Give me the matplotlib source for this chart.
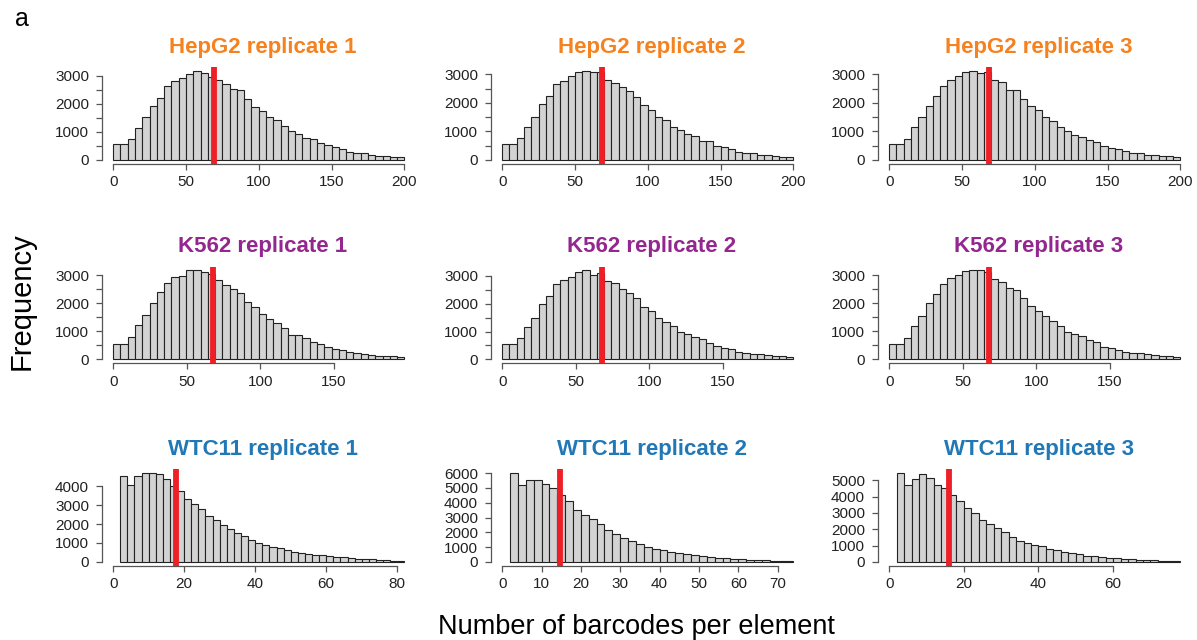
import numpy as np
import matplotlib
matplotlib.use("Agg")
import matplotlib.pyplot as plt
from matplotlib.ticker import FixedLocator, FuncFormatter

plt.rcParams['font.family'] = ['Liberation Sans', 'DejaVu Sans']

# --- data (counts per bin) ---
hepg2_rep1 = [560, 560, 760, 1150, 1520, 1920, 2220, 2630, 2820, 2900, 3050, 3180, 3080, 2950,
              2850, 2690, 2510, 2490, 2160, 1900, 1740, 1510, 1420, 1190, 1030, 910, 790, 735,
              620, 530, 450, 390, 285, 260, 240, 180, 155, 130, 120, 95]
hepg2_rep2 = [550, 560, 760, 1140, 1490, 1960, 2240, 2650, 2780, 2940, 3090, 3130, 3090, 3070,
              2800, 2680, 2570, 2420, 2190, 1910, 1740, 1490, 1400, 1170, 1050, 900, 840, 680,
              665, 500, 440, 385, 290, 255, 235, 185, 165, 140, 115, 105]
hepg2_rep3 = [550, 560, 740, 1170, 1520, 1890, 2240, 2600, 2800, 2940, 3090, 3130, 3030, 3090,
              2800, 2720, 2450, 2450, 2140, 1890, 1740, 1490, 1370, 1170, 1030, 875, 820, 700,
              640, 500, 410, 370, 315, 255, 235, 185, 165, 140, 130, 115]
k562_rep1 = [550, 560, 790, 1230, 1580, 2010, 2400, 2720, 2960, 2990, 3190, 3190, 3110, 3050,
             2820, 2640, 2520, 2370, 2050, 1860, 1620, 1430, 1310, 1130, 870, 870, 750, 630,
             560, 450, 380, 335, 260, 240, 190, 155, 120, 120, 110, 85]
k562_rep2 = [550, 560, 780, 1170, 1500, 1980, 2280, 2700, 2840, 2960, 3140, 3200, 3020, 3080,
             2810, 2750, 2530, 2390, 2190, 1860, 1720, 1500, 1330, 1190, 980, 910, 810, 720,
             600, 490, 420, 370, 275, 240, 190, 180, 155, 130, 120, 95]
k562_rep3 = [550, 560, 750, 1190, 1530, 2010, 2330, 2690, 2900, 3000, 3140, 3180, 3180, 3100,
             2880, 2750, 2540, 2460, 2170, 1890, 1730, 1530, 1350, 1190, 970, 900, 840, 680,
             610, 450, 390, 335, 260, 240, 215, 180, 155, 130, 120, 95]
wtc11_rep1 = [4530, 4050, 4530, 4700, 4720, 4670, 4390, 4020, 3750, 3350, 3080, 2800, 2450,
              2190, 1970, 1730, 1550, 1360, 1180, 1020, 920, 790, 760, 630, 550, 480, 420, 390,
              350, 320, 265, 250, 210, 175, 160, 140, 120, 105, 70, 55]
wtc11_rep2 = [6040, 5200, 5540, 5520, 5250, 4980, 4500, 4140, 3510, 3140, 2870, 2530, 2190,
              1860, 1630, 1400, 1220, 1040, 880, 790, 700, 590, 520, 450, 410, 340, 290, 250,
              225, 180, 160, 135, 115, 90, 70, 55]
wtc11_rep3 = [5470, 4730, 5100, 5370, 5140, 4730, 4530, 4120, 3730, 3330, 3000, 2550, 2310,
              2080, 1840, 1530, 1270, 1180, 1060, 960, 800, 710, 590, 550, 490, 390, 350, 310,
              265, 245, 205, 165, 145, 120, 100, 80, 60, 45]

# bin start / bin end for each panel
bin_start = [0, 0, 0, 0, 0, 0, 2, 2, 2]
bin_end = [200, 200, 200, 198, 198, 198, 82, 74, 78]
medians = [69.0, 68.9, 68.4, 67.8, 68.0, 67.6, 17.8, 14.8, 15.9]
x_ticks = [[0, 50, 100, 150, 200]] * 3 + [[0, 50, 100, 150]] * 3 + \
          [[0, 20, 40, 60, 80], [0, 10, 20, 30, 40, 50, 60, 70], [0, 20, 40, 60]]
titles = ["HepG2 replicate 1", "HepG2 replicate 2", "HepG2 replicate 3",
          "K562 replicate 1", "K562 replicate 2", "K562 replicate 3",
          "WTC11 replicate 1", "WTC11 replicate 2", "WTC11 replicate 3"]
row_colors = ['#F5821F', '#93278F', '#2178B6']

counts = [hepg2_rep1, hepg2_rep2, hepg2_rep3, k562_rep1, k562_rep2, k562_rep3,
          wtc11_rep1, wtc11_rep2, wtc11_rep3]

W, H = 1197, 640
fig = plt.figure(figsize=(W / 100, H / 100), dpi=100)

col_left = [101.5, 490.5, 877.5]
col_width = 314.5
row_top = [67.0, 266.5, 469.0]
box_h = 96.5

for k in range(9):
    r, c = divmod(k, 3)
    ax = fig.add_axes([col_left[c] / W, 1 - (row_top[r] + box_h) / H, col_width / W, box_h / H])
    vals = np.array(counts[k])
    edges = np.linspace(bin_start[k], bin_end[k], len(vals) + 1)
    ax.bar(edges[:-1], vals, width=np.diff(edges), align='edge',
           color='#D3D3D3', edgecolor='#222222', linewidth=0.8)
    M = vals.max()
    hi = bin_end[k]
    ax.set_xlim(-0.04 * hi, hi * 1.04)
    ax.set_ylim(-0.04 * M, 1.04 * M)
    ax.axvline(medians[k], color='#EE1F26', linewidth=4.2, zorder=5)

    if r < 2:
        yt = list(range(0, int(M // 500) * 500 + 1, 500))
    else:
        yt = list(range(0, int(M // 1000) * 1000 + 1, 1000))
    ax.yaxis.set_major_locator(FixedLocator(yt))
    ax.yaxis.set_major_formatter(FuncFormatter(lambda v, p: '%d' % v if v % 1000 == 0 else ''))
    ax.xaxis.set_major_locator(FixedLocator(x_ticks[k]))
    ax.xaxis.set_major_formatter(FuncFormatter(lambda v, p: '%d' % v))

    for s in ['top', 'right']:
        ax.spines[s].set_visible(False)
    ax.spines['left'].set_bounds(yt[0], yt[-1])
    ax.spines['bottom'].set_bounds(x_ticks[k][0], x_ticks[k][-1])
    for s in ['left', 'bottom']:
        ax.spines[s].set_color('#555555')
        ax.spines[s].set_linewidth(0.9)
    ax.tick_params(axis='y', length=4, width=0.9, color='#555555', pad=5,
                   labelsize=11, labelcolor='#222222')
    ax.tick_params(axis='x', length=4, width=0.9, color='#555555', pad=4.5,
                   labelsize=11, labelcolor='#222222')
    ax.patch.set_alpha(0)

    ax.text(0.512, 1 + 20 / box_h, titles[k], transform=ax.transAxes, ha='center', va='center',
            fontsize=16, fontweight='bold', color=row_colors[r])

fig.text(22 / W, 1 - 301 / H, "Frequency", rotation=90, ha='center', va='center', fontsize=21)
fig.text(636 / W, 1 - 627 / H, "Number of barcodes per element", ha='center', va='center',
         fontsize=19.5)
fig.text(22 / W, 1 - 19 / H, "a", ha='center', va='center', fontsize=18)

fig.savefig("out.png", dpi=100)
